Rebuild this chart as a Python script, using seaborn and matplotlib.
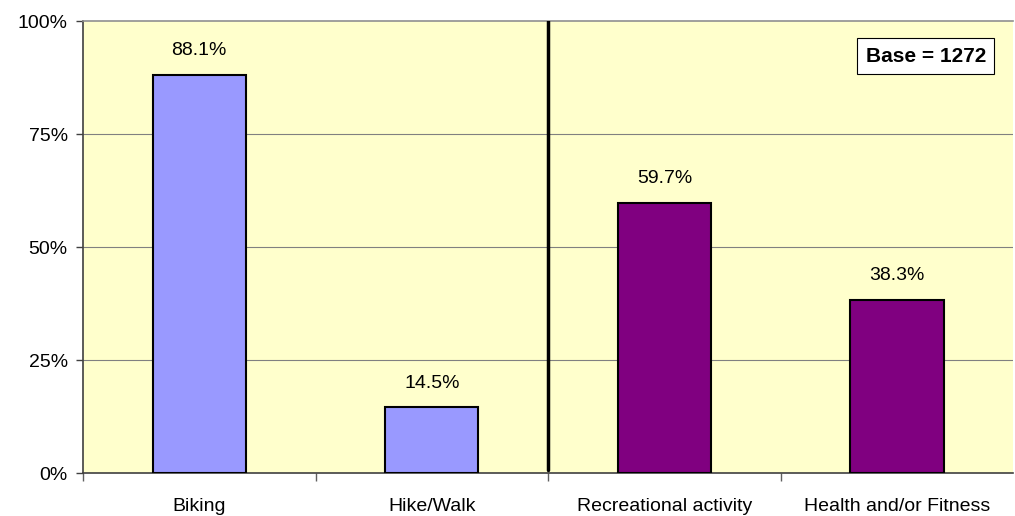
import numpy as np
import pandas as pd
import seaborn as sns
import matplotlib.pyplot as plt

categories = ["Biking", "Hike/Walk", "Recreational activity", "Health and/or Fitness"]
values = [88.1, 14.5, 59.7, 38.3]
bar_colors = ["#9999FF", "#9999FF", "#800080", "#800080"]
y_ticks = [0, 25, 50, 75, 100]
base_text = "Base = 1272"

sns.set_style("white")
plt.rcParams['font.family'] = ['Liberation Sans', 'DejaVu Sans']
plt.rcParams['text.color'] = 'black'
plt.rcParams['xtick.color'] = 'black'
plt.rcParams['ytick.color'] = 'black'
plt.rcParams['xtick.bottom'] = True
plt.rcParams['ytick.left'] = True

df = pd.DataFrame({"category": categories, "value": values})

fig = plt.figure(figsize=(10.15, 5.16), dpi=100)
ax = fig.add_axes([0.0818, 0.0833, 0.9165, 0.876])
ax.set_facecolor("#FFFFCC")

sns.barplot(data=df, x="category", y="value", hue="category", palette=bar_colors,
            saturation=1, legend=False, width=0.4, edgecolor="black", linewidth=1.5,
            ax=ax, zorder=3)

# gridlines
for t in y_ticks[1:-1]:
    ax.axhline(t, color="#808080", lw=0.8, zorder=1)

# divider between the two groups
ax.axvline(1.5, ymin=0.006, ymax=1, color="black", lw=2.5, zorder=4)

# value labels
for i, v in enumerate(values):
    ax.text(i, v + 3.5, f"{v:.1f}%", ha="center", va="bottom", fontsize=14)

ax.text(0.906, 0.922, base_text, transform=ax.transAxes, ha="center", va="center",
        fontsize=15, fontweight="bold",
        bbox=dict(boxstyle="square,pad=0.4", fc="white", ec="black", lw=0.8), zorder=5)

ax.set_xlim(-0.5, 3.5)
ax.set_ylim(0, 100)
ax.set_yticks(y_ticks)
ax.set_yticklabels([f"{t}%" for t in y_ticks], fontsize=14)
ax.set_xticks(range(len(categories)))
ax.set_xticklabels(categories, fontsize=14)
ax.set_xticks(np.arange(-0.5, 3, 1), minor=True)
ax.tick_params(axis="x", which="major", length=0, pad=18)
ax.tick_params(axis="x", which="minor", length=6, color="#606060", width=1)
ax.tick_params(axis="y", length=5, color="#404040", width=1, pad=6)
ax.set_xlabel("")
ax.set_ylabel("")

for s in ["left", "bottom"]:
    ax.spines[s].set_color("#404040")
    ax.spines[s].set_linewidth(1.2)
ax.spines["top"].set_color("#909090")
ax.spines["top"].set_linewidth(1.2)
ax.spines["right"].set_visible(False)

fig.savefig("out.png", dpi=100)
